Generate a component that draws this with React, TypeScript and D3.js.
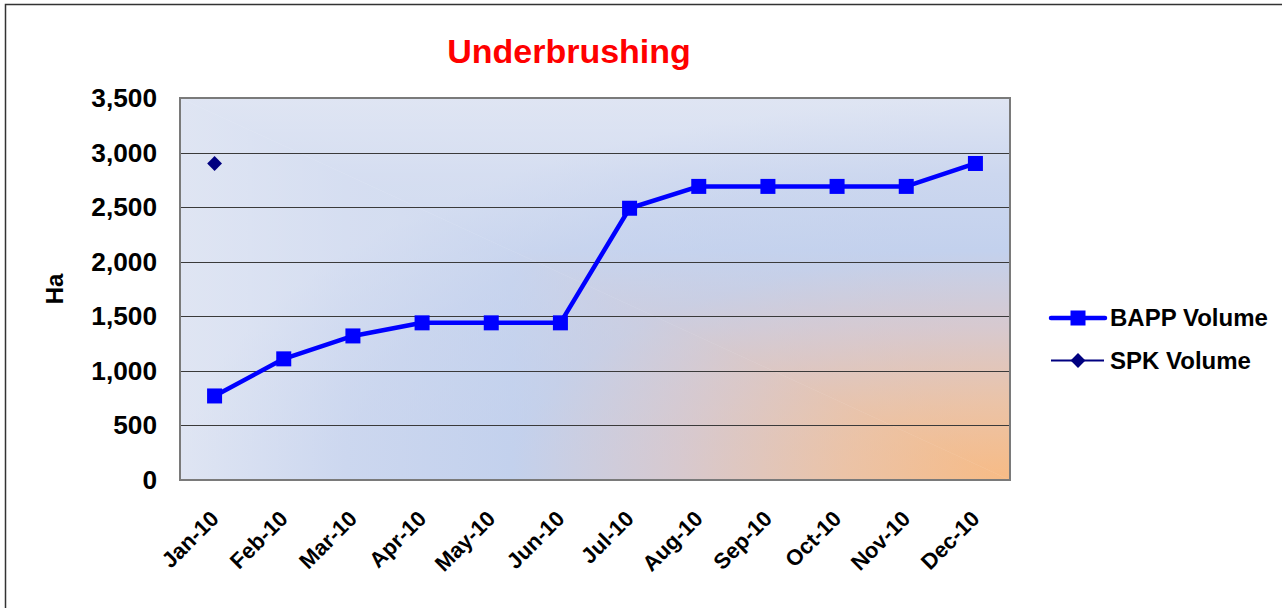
import React, { useRef, useEffect } from 'react';
import * as d3 from 'd3';

const months = ['Jan-10', 'Feb-10', 'Mar-10', 'Apr-10', 'May-10', 'Jun-10', 'Jul-10', 'Aug-10', 'Sep-10', 'Oct-10', 'Nov-10', 'Dec-10'];
const bappVolume = [770, 1110, 1320, 1440, 1440, 1440, 2490, 2690, 2690, 2690, 2690, 2900];
const spkVolume: (number | null)[] = [2900, null, null, null, null, null, null, null, null, null, null, null];
const yTicks = [0, 500, 1000, 1500, 2000, 2500, 3000, 3500];

const bgStops: [number, string][] = [
  [0, '#f7bb85'], [0.2, '#ebc3a7'], [0.4, '#d7c9cf'], [0.6, '#c3d1ed'], [0.8, '#ccd7ef'], [1, '#dfe5f3'],
];

const App = () => {
  const chartRef = useRef<SVGSVGElement>(null);

  useEffect(() => {
    if (!chartRef.current) return;
    const svg = d3.select(chartRef.current);
    svg.selectAll('*').remove();

    const width = 1282;
    const height = 608;
    const margin = { top: 98, right: 272, bottom: 128, left: 180 };
    const font = 'Liberation Sans, Arial, sans-serif';

    const x = d3.scaleBand().domain(months).range([margin.left, width - margin.right]);
    const y = d3.scaleLinear().domain([0, 3500]).range([height - margin.bottom, margin.top]);
    const cx = (m: string) => (x(m) as number) + x.bandwidth() / 2;

    const x0 = margin.left, x1 = width - margin.right, y0 = margin.top, y1 = height - margin.bottom;

    // "from corner" fill: rectangular contours out of the bottom-right corner,
    // built from two triangles, softened with an elliptical radial on top
    const defs = svg.append('defs');
    const hGrad = defs.append('linearGradient').attr('id', 'bgH').attr('gradientUnits', 'userSpaceOnUse')
      .attr('x1', x1).attr('y1', 0).attr('x2', x0).attr('y2', 0);
    const vGrad = defs.append('linearGradient').attr('id', 'bgV').attr('gradientUnits', 'userSpaceOnUse')
      .attr('x1', 0).attr('y1', y1).attr('x2', 0).attr('y2', y0);
    const rGrad = defs.append('radialGradient').attr('id', 'bgR')
      .attr('cx', 1).attr('cy', 1).attr('r', 1).attr('fx', 1).attr('fy', 1);
    bgStops.forEach(([o, c]) => {
      hGrad.append('stop').attr('offset', o).attr('stop-color', c);
      vGrad.append('stop').attr('offset', o).attr('stop-color', c);
      rGrad.append('stop').attr('offset', o).attr('stop-color', c);
    });

    // outer frame
    svg.append('rect').attr('x', 5.5).attr('y', 4.5).attr('width', 1300).attr('height', 700)
      .attr('fill', 'white').attr('stroke', '#333').attr('stroke-width', 1.5);

    svg.append('polygon').attr('points', `${x1},${y1} ${x0},${y1} ${x0},${y0}`).attr('fill', 'url(#bgH)')
      .attr('stroke', 'url(#bgH)').attr('stroke-width', 0.5);
    svg.append('polygon').attr('points', `${x1},${y1} ${x1},${y0} ${x0},${y0}`).attr('fill', 'url(#bgV)');
    svg.append('rect').attr('x', x0).attr('y', y0).attr('width', x1 - x0).attr('height', y1 - y0)
      .attr('fill', 'url(#bgR)').attr('opacity', 0.5);

    // gridlines
    svg.append('g').selectAll('line').data(yTicks.filter(d => d > 0 && d < 3500)).join('line')
      .attr('x1', x0).attr('x2', x1)
      .attr('y1', d => Math.round(y(d)) + 0.5).attr('y2', d => Math.round(y(d)) + 0.5)
      .attr('stroke', '#3a3a3a').attr('stroke-width', 1);

    svg.append('rect').attr('x', x0).attr('y', y0).attr('width', x1 - x0).attr('height', y1 - y0)
      .attr('fill', 'none').attr('stroke', '#7a7a7a').attr('stroke-width', 2);

    // y tick labels
    svg.append('g').selectAll('text').data(yTicks).join('text')
      .attr('transform', d => `translate(157,${y(d) + 9}) scale(1.05,1)`)
      .attr('text-anchor', 'end')
      .style('font-family', font).style('font-weight', 'bold').style('font-size', '25px')
      .text(d => d3.format(',')(d));

    // x tick labels
    svg.append('g').selectAll('text').data(months).join('text')
      .attr('transform', d => `translate(${cx(d) + 5.5},520) rotate(-45)`)
      .attr('text-anchor', 'end')
      .style('font-family', font).style('font-weight', 'bold').style('font-size', '22px')
      .text(d => d);

    // axis title
    svg.append('text').attr('transform', 'translate(63,289) rotate(-90)')
      .attr('text-anchor', 'middle')
      .style('font-family', font).style('font-weight', 'bold').style('font-size', '24px')
      .text('Ha');

    // chart title
    svg.append('text').attr('x', 569).attr('y', 63).attr('text-anchor', 'middle')
      .style('font-family', font).style('font-weight', 'bold').style('font-size', '34px')
      .attr('fill', '#ff0000').text('Underbrushing');

    // BAPP line
    const line = d3.line<number>().x((d, i) => cx(months[i])).y(d => y(d));
    svg.append('path').datum(bappVolume).attr('fill', 'none').attr('stroke', '#0000ff')
      .attr('stroke-width', 4.5).attr('stroke-linejoin', 'round').attr('d', line);
    svg.append('g').selectAll('rect').data(bappVolume).join('rect')
      .attr('x', (d, i) => cx(months[i]) - 7.5).attr('y', d => y(d) - 7.5)
      .attr('width', 15).attr('height', 15).attr('fill', '#0000ff');

    // SPK points
    const diamond = d3.symbol().type(d3.symbolDiamond2).size(140);
    svg.append('g').selectAll('path').data(spkVolume.map((v, i) => ({ v, m: months[i] })).filter(d => d.v !== null)).join('path')
      .attr('transform', d => `translate(${cx(d.m)},${y(d.v as number)})`)
      .attr('d', diamond).attr('fill', '#000080');

    // legend
    const legend = svg.append('g');
    legend.append('line').attr('x1', 1051).attr('x2', 1105).attr('y1', 318).attr('y2', 318)
      .attr('stroke', '#0000ff').attr('stroke-width', 4.5).attr('stroke-linecap', 'round');
    legend.append('rect').attr('x', 1078 - 7.5).attr('y', 318 - 7.5).attr('width', 15).attr('height', 15).attr('fill', '#0000ff');
    legend.append('text').attr('x', 1110).attr('y', 326)
      .style('font-family', font).style('font-weight', 'bold').style('font-size', '24px').text('BAPP Volume');
    legend.append('line').attr('x1', 1051).attr('x2', 1104).attr('y1', 360.5).attr('y2', 360.5)
      .attr('stroke', '#000080').attr('stroke-width', 2);
    legend.append('path').attr('transform', 'translate(1078,360.5)').attr('d', diamond).attr('fill', '#000080');
    legend.append('text').attr('x', 1110).attr('y', 369)
      .style('font-family', font).style('font-weight', 'bold').style('font-size', '24px').text('SPK Volume');
  }, []);

  return <svg ref={chartRef} width="1282" height="608" style={{ position: 'absolute', left: 0, top: 0 }}></svg>;
};

export default App;
